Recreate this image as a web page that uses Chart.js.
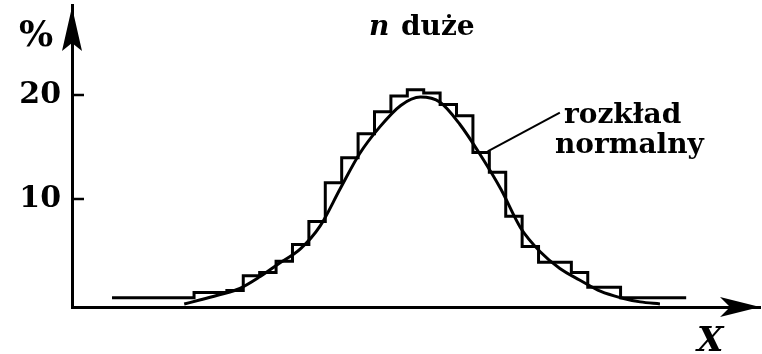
<!DOCTYPE html>
<html>
<head>
<meta charset="utf-8">
<script src="https://cdn.jsdelivr.net/npm/chart.js@4.4.1/dist/chart.umd.min.js"></script>
<style>
  html, body { margin: 0; padding: 0; background: #fff; }
  #wrap { width: 762px; height: 354px; position: relative; }
</style>
</head>
<body>
<div id="wrap"><canvas id="chart"></canvas></div>
<script>
// Histogram (percent per bin, bins 0..34 left to right)
const histValues = [
    0.6, 0.6, 0.6, 0.6, 0.6, 1.1, 1.1, 1.3, 2.7, 3.0,
    4.1, 5.7, 7.9, 11.6, 14.0, 16.3, 18.4, 19.9, 20.5, 20.2,
    19.1, 18.0, 14.5, 12.6, 8.4, 5.5, 4.0, 4.0, 3.0, 1.6,
    1.6, 0.6, 0.6, 0.6, 0.6
];

// Normal distribution curve (x in bin units)
const curveX = [4.4, 5.4, 6.6, 7.8, 9.0, 10.2, 11.5, 12.7, 13.9, 15.1, 16.3, 17.6, 18.8,
                20.0, 21.2, 22.4, 23.7, 24.9, 26.1, 27.3, 28.5, 29.8, 31.0, 32.2, 33.4];
const curveY = [0.0, 0.4, 0.9, 1.5, 2.6, 3.9, 5.3, 7.5, 11.0, 14.4, 16.9, 19.0, 19.8,
                19.3, 17.2, 14.4, 11.0, 7.3, 5.0, 3.4, 2.3, 1.2, 0.6, 0.2, 0.0];

// Leader line from curve to the "rozkład normalny" label
const leaderX = [22.9, 27.3];
const leaderY = [14.6, 18.3];

const yTicks = [10, 20];
const xRange = [-2.44, 39.5];
const yRange = [-0.29, 28.61];

const histPoints = histValues.map((v, k) => ({ x: k, y: v }));
histPoints.push({ x: histValues.length, y: histValues[histValues.length - 1] });

const SERIF = '"DejaVu Serif", "Liberation Serif", serif';

// Arrows, inner tick marks and text labels
const decorPlugin = {
    id: 'decor',
    afterDraw(chart) {
        const { ctx, chartArea: a, scales } = chart;
        const ys = scales.y;
        ctx.save();
        ctx.fillStyle = '#000';
        ctx.strokeStyle = '#000';

        // y arrow head
        const ax = a.left, ty = a.top + 2;
        ctx.beginPath();
        ctx.moveTo(ax, ty);
        ctx.lineTo(ax + 10, ty + 44);
        ctx.lineTo(ax, ty + 36);
        ctx.lineTo(ax - 10, ty + 44);
        ctx.closePath();
        ctx.fill();

        // x arrow head
        const tx = a.right, by = a.bottom;
        ctx.beginPath();
        ctx.moveTo(tx, by);
        ctx.lineTo(tx - 40, by - 10);
        ctx.lineTo(tx - 30, by);
        ctx.lineTo(tx - 40, by + 10);
        ctx.closePath();
        ctx.fill();

        // tick marks pointing into the plot
        ctx.lineWidth = 2.5;
        yTicks.forEach(v => {
            const py = Math.round(ys.getPixelForValue(v));
            ctx.beginPath();
            ctx.moveTo(ax, py);
            ctx.lineTo(ax + 12, py);
            ctx.stroke();
        });

        ctx.textBaseline = 'alphabetic';
        ctx.textAlign = 'left';

        // % unit
        ctx.font = 'bold 36px ' + SERIF;
        ctx.fillText('%', 19, 46);

        // title
        ctx.font = 'italic bold 28px ' + SERIF;
        ctx.fillText('n', 369, 35);
        ctx.font = 'bold 28px ' + SERIF;
        ctx.fillText('duże', 401, 35);

        // curve label
        ctx.font = 'bold 28px ' + SERIF;
        ctx.fillText('rozkład', 564, 123);
        ctx.fillText('normalny', 555, 153);

        // X axis name
        ctx.font = 'italic bold 34px ' + SERIF;
        ctx.fillText('X', 697, 351);

        ctx.restore();
    }
};

new Chart(document.getElementById('chart'), {
    type: 'line',
    data: {
        datasets: [
            {
                label: 'histogram',
                data: histPoints,
                stepped: 'before',
                borderColor: '#000',
                borderWidth: 3,
                pointRadius: 0,
                fill: false
            },
            {
                label: 'rozkład normalny',
                data: curveX.map((x, i) => ({ x, y: curveY[i] })),
                borderColor: '#000',
                borderWidth: 3,
                pointRadius: 0,
                cubicInterpolationMode: 'monotone',
                fill: false
            },
            {
                label: 'leader',
                data: leaderX.map((x, i) => ({ x, y: leaderY[i] })),
                borderColor: '#000',
                borderWidth: 2,
                pointRadius: 0,
                fill: false
            }
        ]
    },
    options: {
        responsive: true,
        maintainAspectRatio: false,
        animation: false,
        layout: { padding: { top: 5, right: 2, left: 0, bottom: 0 } },
        plugins: {
            legend: { display: false },
            tooltip: { enabled: false }
        },
        scales: {
            x: {
                type: 'linear',
                min: xRange[0],
                max: xRange[1],
                grid: { display: false, drawTicks: false },
                border: { display: true, color: '#000', width: 3 },
                ticks: { display: false },
                afterFit: s => { s.height = 47; s.paddingLeft = 0; s.paddingRight = 0; }
            },
            y: {
                type: 'linear',
                min: yRange[0],
                max: yRange[1],
                grid: { display: false, drawTicks: false },
                border: { display: true, color: '#000', width: 3 },
                afterBuildTicks: s => { s.ticks = yTicks.map(v => ({ value: v })); },
                ticks: {
                    color: '#000',
                    padding: 11,
                    font: { family: SERIF, size: 30, weight: 'bold' }
                },
                afterFit: s => { s.width = 72; s.paddingTop = 0; s.paddingBottom = 0; }
            }
        }
    },
    plugins: [decorPlugin]
});
</script>
</body>
</html>
